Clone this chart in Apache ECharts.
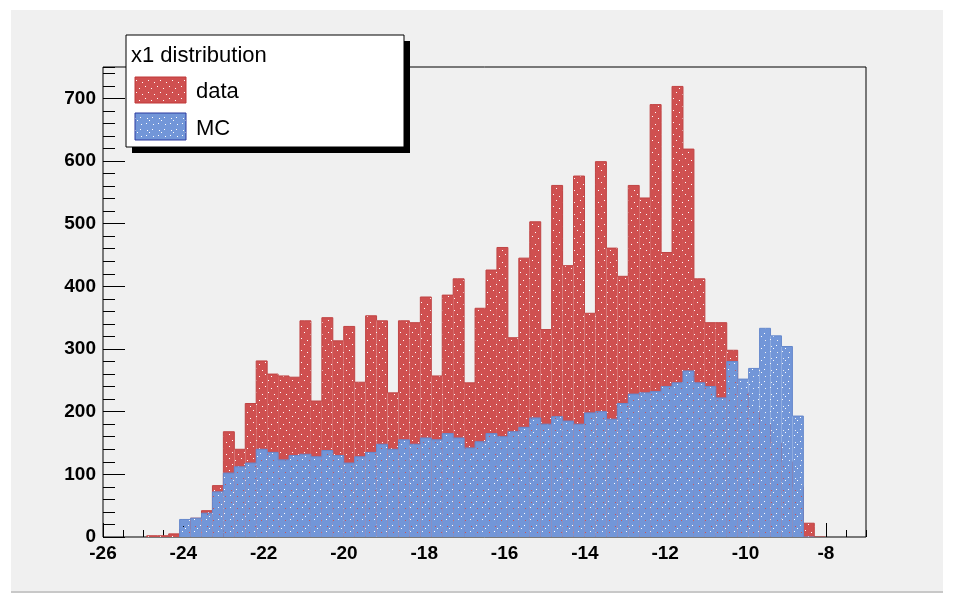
<!DOCTYPE html>
<html><head><meta charset="utf-8">
<script src="https://cdn.jsdelivr.net/npm/echarts@6/dist/echarts.min.js"></script>
<style>
html,body{margin:0;padding:0;background:#fff;}
#bg{position:absolute;left:11px;top:10px;width:932px;height:581px;background:#f0f0f0;border-bottom:2px solid #c8c8c8;}
#chart{position:absolute;left:0;top:0;width:955px;height:596px;}
</style></head><body>
<div id="bg"></div><div id="chart"></div>
<script>
// Histogram binning (70 bins starting at -26)
const BIN_LO = -26;
const BIN_W = 0.2725;
// "data" counts per bin (bin 0 = first bin at -26)
const dataCounts = [0,0,0,0,2,2,5,12,30,42,82,168,140,213,281,260,257,255,345,217,350,313,336,247,353,345,230,345,342,383,257,386,412,246,365,426,462,318,445,503,331,561,433,576,357,599,461,416,561,541,690,454,719,619,412,342,342,298,230,200,180,150,120,80,22,0];
// "MC" counts per bin
const mcCounts = [0,0,0,0,0,0,0,28,30,38,72,102,112,118,140,135,123,130,132,128,138,130,118,128,135,148,140,155,148,158,155,165,158,142,152,165,160,168,175,190,180,192,185,180,198,200,188,213,228,230,232,240,246,265,246,240,222,280,252,269,333,321,304,193,0,0];
const xTickLabels = [-26,-24,-22,-20,-18,-16,-14,-12,-10,-8];
const yTickLabels = [0,100,200,300,400,500,600,700];
const legendTitle = 'x1 distribution';
const seriesNames = ['data','MC'];

const RED = '#cf5050', RED_EDGE = '#c04444';
const BLUE = '#7296d8', BLUE_EDGE = '#6688cc';

function makePattern(base, dots, holes) {
  const c = document.createElement('canvas'); c.width = 12; c.height = 12;
  const g = c.getContext('2d');
  g.fillStyle = base; g.fillRect(0, 0, 12, 12);
  g.fillStyle = '#ffffff';
  dots.forEach(p => g.fillRect(p[0], p[1], 1, 1));
  holes.forEach(p => g.clearRect(p[0], p[1], 1, 1));
  return { image: c, repeat: 'repeat' };
}
const redPat = makePattern(RED, [[1,2],[7,4],[4,8],[10,10]], []);
const bluePat = makePattern(BLUE, [[2,3],[8,9],[5,0]], [[9,4],[3,10]]);

function histData(counts) {
  return counts.map((v, i) => [BIN_LO + i * BIN_W, BIN_LO + (i + 1) * BIN_W, v, i > 0 ? counts[i - 1] : 0]);
}
function renderHist(edge, pat) {
  return function (params, api) {
    const x0 = api.value(0), x1 = api.value(1), v = api.value(2), vp = api.value(3);
    const pTop = api.coord([x0, v]);
    const pBot = api.coord([x1, 0]);
    const pPrev = api.coord([x0, vp]);
    const children = [];
    if (v > 0) {
      children.push({ type: 'rect', shape: { x: pTop[0], y: pTop[1], width: pBot[0] - pTop[0], height: pBot[1] - pTop[1] }, style: { fill: pat } });
    }
    if (v > 0 || vp > 0) {
      children.push({ type: 'polyline', shape: { points: [pPrev, pTop, [pBot[0], pTop[1]]] }, style: { stroke: edge, lineWidth: 1, fill: null } });
    }
    return { type: 'group', children };
  };
}

const FONT = "'Liberation Sans', Arial, sans-serif";
const chart = echarts.init(document.getElementById('chart'), null, { renderer: 'canvas' });
const tickStyle = { color: '#000', width: 1 };
chart.setOption({
  backgroundColor: 'transparent',
  animation: false,
  grid: { left: 103, top: 67, width: 763, height: 470, show: true, borderColor: '#000', borderWidth: 1, backgroundColor: 'transparent' },
  xAxis: [
    { type: 'value', min: -26, max: -7, interval: 0.5, position: 'bottom', axisLine: { show: false },
      axisTick: { inside: true, length: 7, lineStyle: tickStyle }, axisLabel: { show: false }, splitLine: { show: false } },
    { type: 'value', min: -26, max: -7, interval: 2, position: 'bottom', axisLine: { show: false },
      axisTick: { inside: true, length: 14, lineStyle: tickStyle },
      axisLabel: { margin: 7, color: '#000', fontFamily: FONT, fontWeight: 'bold', fontSize: 19, showMaxLabel: false,
        formatter: v => xTickLabels.indexOf(v) >= 0 ? String(v) : '' },
      splitLine: { show: false } }
  ],
  yAxis: [
    { type: 'value', min: 0, max: 750, interval: 20, position: 'left', axisLine: { show: false },
      axisTick: { inside: true, length: 12, lineStyle: tickStyle }, axisLabel: { show: false }, splitLine: { show: false } },
    { type: 'value', min: 0, max: 750, interval: 100, position: 'left', axisLine: { show: false },
      axisTick: { inside: true, length: 22, lineStyle: tickStyle },
      axisLabel: { margin: 7, color: '#000', fontFamily: FONT, fontWeight: 'bold', fontSize: 19, showMaxLabel: false,
        formatter: v => yTickLabels.indexOf(v) >= 0 ? String(v) : '' },
      splitLine: { show: false } }
  ],
  series: [
    { name: seriesNames[0], type: 'custom', xAxisIndex: 0, yAxisIndex: 0, clip: true, z: 2,
      renderItem: renderHist(RED_EDGE, redPat), data: histData(dataCounts) },
    { name: seriesNames[1], type: 'custom', xAxisIndex: 0, yAxisIndex: 0, clip: true, z: 3,
      renderItem: renderHist(BLUE_EDGE, bluePat), data: histData(mcCounts) }
  ],
  graphic: [
    { type: 'rect', z: 100, shape: { x: 132, y: 41, width: 278, height: 112 }, style: { fill: '#000' } },
    { type: 'rect', z: 101, shape: { x: 126, y: 35, width: 278, height: 112 }, style: { fill: '#fff', stroke: '#000', lineWidth: 1 } },
    { type: 'text', z: 102, x: 131, y: 56, style: { text: legendTitle, fill: '#000', font: "22px " + FONT, textVerticalAlign: 'middle' } },
    { type: 'rect', z: 102, shape: { x: 135, y: 77, width: 51, height: 26 }, style: { fill: redPat, stroke: '#c03838', lineWidth: 1 } },
    { type: 'text', z: 102, x: 196, y: 92, style: { text: seriesNames[0], fill: '#000', font: "22px " + FONT, textVerticalAlign: 'middle' } },
    { type: 'rect', z: 102, shape: { x: 135, y: 113, width: 51, height: 27 }, style: { fill: bluePat, stroke: '#2a3aa0', lineWidth: 1 } },
    { type: 'text', z: 102, x: 196, y: 129, style: { text: seriesNames[1], fill: '#000', font: "22px " + FONT, textVerticalAlign: 'middle' } }
  ]
});
</script>
</body></html>
